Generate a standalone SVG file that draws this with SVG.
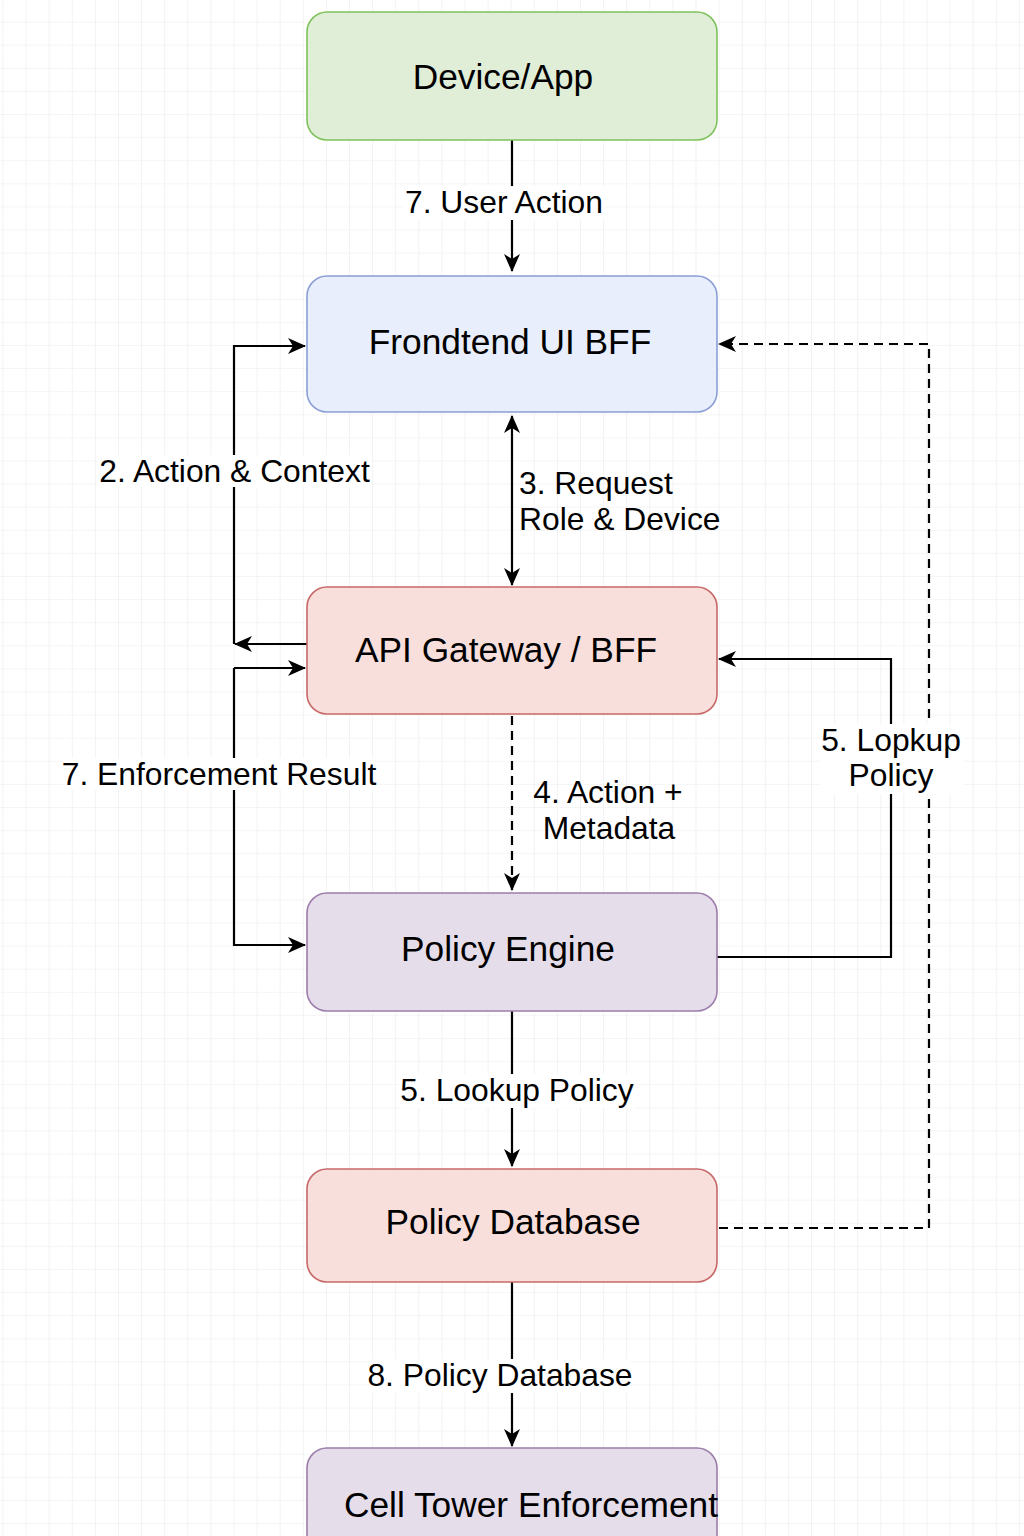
<svg xmlns="http://www.w3.org/2000/svg" width="1024" height="1536" viewBox="0 0 1024 1536">
<defs>
<pattern id="grid" x="2.5" y="-1.5" width="23.1" height="23.1" patternUnits="userSpaceOnUse">
<path d="M0 0H23.1M0 0V23.1" fill="none" stroke="#ebebeb" stroke-width="1.2"/>
</pattern>
<marker id="arr" viewBox="0 0 18 16" refX="17" refY="8" markerWidth="18" markerHeight="16" markerUnits="userSpaceOnUse" orient="auto-start-reverse">
<path d="M0 0L18 8L0 16L5 8Z" fill="#000"/>
</marker>
<style>
.node{stroke-width:1.6}
.nt{font-family:"Liberation Sans",Arial,sans-serif;font-size:35.3px;fill:#000;text-anchor:middle}
.lt{font-family:"Liberation Sans",Arial,sans-serif;font-size:31.8px;fill:#000;text-anchor:middle}
.ln{fill:none;stroke:#000;stroke-width:2.2}
.dash{stroke-dasharray:9 6}
.bg{fill:#fff}
</style>
</defs>
<rect width="1024" height="1536" fill="#fff"/>
<rect width="1024" height="1536" fill="url(#grid)"/>

<g id="connectors">
<path class="ln" d="M512 140V271" marker-end="url(#arr)"/>
<path class="ln" d="M307 644H235" marker-end="url(#arr)"/>
<path class="ln" d="M234 644V346H305" marker-end="url(#arr)"/>
<path class="ln" d="M512 416V585" marker-start="url(#arr)" marker-end="url(#arr)"/>
<path class="ln dash" d="M512 716V890" marker-end="url(#arr)"/>
<path class="ln" d="M234 668H305" marker-end="url(#arr)"/>
<path class="ln" d="M234 668V945H305" marker-end="url(#arr)"/>
<path class="ln" d="M717 957H891V659H719" marker-end="url(#arr)"/>
<path class="ln dash" d="M719 1228H929V344H719" marker-end="url(#arr)"/>
<path class="ln" d="M512 1011V1166" marker-end="url(#arr)"/>
<path class="ln" d="M512 1282V1446" marker-end="url(#arr)"/>

<rect class="bg" x="403" y="186" width="202" height="34"/>
<text class="lt" x="504" y="213">7. User Action</text>
<rect class="bg" x="98" y="455" width="273" height="32"/>
<text class="lt" x="234.5" y="482">2. Action &amp; Context</text>
<text class="lt" x="519" y="494" style="text-anchor:start">3. Request</text>
<text class="lt" x="519" y="530" style="text-anchor:start">Role &amp; Device</text>
<text class="lt" x="608" y="803">4. Action +</text>
<text class="lt" x="609" y="839">Metadata</text>
<rect class="bg" x="63" y="758" width="312" height="32"/>
<text class="lt" x="219" y="785">7. Enforcement Result</text>
<rect class="bg" x="820" y="724" width="144" height="70"/>
<text class="lt" x="891" y="751">5. Lopkup</text>
<text class="lt" x="891" y="786">Policy</text>
<rect class="bg" x="399" y="1074" width="236" height="34"/>
<text class="lt" x="517" y="1101">5. Lookup Policy</text>
<rect class="bg" x="370" y="1359" width="260" height="34"/>
<text class="lt" x="500" y="1386">8. Policy Database</text>
</g>

<g id="device-app">
<rect class="node" x="307" y="12" width="410" height="128" rx="20" fill="#e0eed8" stroke="#7fc25b"/>
<text class="nt" x="503" y="89">Device/App</text>
</g>
<g id="frontend-ui-bff">
<rect class="node" x="307" y="276" width="410" height="136" rx="20" fill="#e8eefb" stroke="#8a9fd6"/>
<text class="nt" x="510" y="354">Frondtend UI BFF</text>
</g>
<g id="api-gateway">
<rect class="node" x="307" y="587" width="410" height="127" rx="20" fill="#f8dfdc" stroke="#c76868"/>
<text class="nt" x="506" y="662">API Gateway / BFF</text>
</g>
<g id="policy-engine">
<rect class="node" x="307" y="893" width="410" height="118" rx="20" fill="#e6ddeb" stroke="#9c7eab"/>
<text class="nt" x="508" y="961">Policy Engine</text>
</g>
<g id="policy-database">
<rect class="node" x="307" y="1169" width="410" height="113" rx="20" fill="#f8dfdc" stroke="#c76868"/>
<text class="nt" x="513" y="1234">Policy Database</text>
</g>
<g id="cell-tower">
<rect class="node" x="307" y="1448" width="410" height="110" rx="20" fill="#e6ddeb" stroke="#9c7eab"/>
<text class="nt" x="344" y="1517" style="text-anchor:start">Cell Tower Enforcement</text>
</g>
</svg>
